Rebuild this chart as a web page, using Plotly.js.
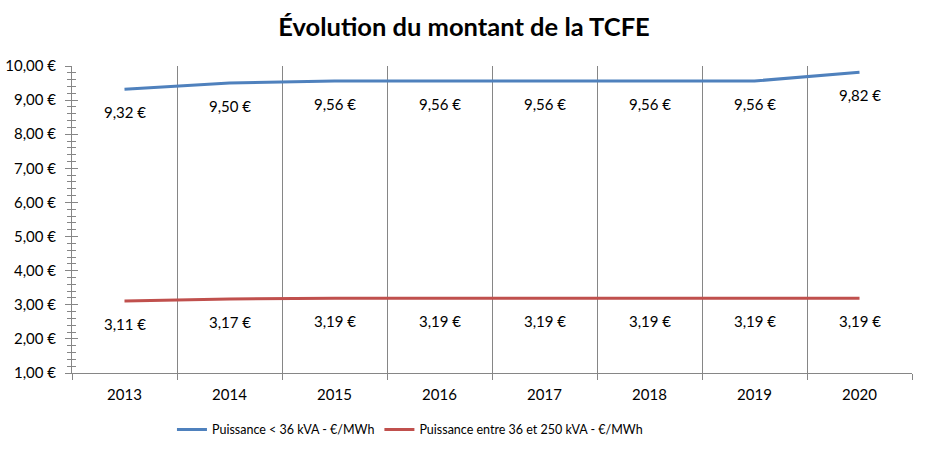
<!DOCTYPE html>
<html>
<head>
<meta charset="utf-8">
<script src="https://cdn.plot.ly/plotly-3.0.1.min.js"></script>
<style>html,body{margin:0;padding:0;background:#fff;}</style>
</head>
<body>
<div id="chart" style="width:928px;height:451px;"></div>
<script>
const years = ["2013","2014","2015","2016","2017","2018","2019","2020"];
const lowPower = [9.32, 9.50, 9.56, 9.56, 9.56, 9.56, 9.56, 9.82];
const midPower = [3.11, 3.17, 3.19, 3.19, 3.19, 3.19, 3.19, 3.19];
const seriesNames = ["Puissance < 36 kVA - €/MWh", "Puissance entre 36 et 250 kVA - €/MWh"];

const FONT = "Lato, 'Open Sans', sans-serif";
const GRID = "#868686";
const fmt = v => v.toFixed(2).replace('.', ',') + ' €';

const traces = [
  {x: years, y: lowPower, name: seriesNames[0], type: 'scatter', mode: 'lines',
   line: {color: '#4F81BD', width: 3}, hoverinfo: 'skip', xaxis: 'x', yaxis: 'y'},
  {x: years, y: midPower, name: seriesNames[1], type: 'scatter', mode: 'lines',
   line: {color: '#C0504D', width: 3}, hoverinfo: 'skip', xaxis: 'x', yaxis: 'y2'}
];

const annotations = [];
[lowPower, midPower].forEach(series => {
  series.forEach((v, i) => {
    annotations.push({x: i, y: v, xref: 'x', yref: 'y', text: fmt(v),
      showarrow: false, yshift: -23, font: {family: FONT, size: 15, color: '#000'}});
  });
});

const yCommon = {range: [1, 10], dtick: 1, tick0: 1, showgrid: false, zeroline: false, fixedrange: true, automargin: false};

const layout = {
  width: 928, height: 451,
  margin: {l: 72, r: 16, t: 66, b: 78},
  paper_bgcolor: '#fff', plot_bgcolor: '#fff',
  separators: ', ',
  font: {family: FONT, size: 15, color: '#000'},
  title: {text: '<b>Évolution du montant de la TCFE</b>', x: 0.5, xanchor: 'center', y: 0.96, yanchor: 'top',
    font: {family: FONT, size: 25.5, color: '#000'}},
  showlegend: true,
  legend: {orientation: 'h', x: 0.119, xanchor: 'left', yref: 'container', y: 0.047, yanchor: 'middle',
    font: {family: FONT, size: 12.5, color: '#000'}, tracegroupgap: 0},
  xaxis: {type: 'category', tickson: 'boundaries', showgrid: true, gridcolor: GRID, gridwidth: 1,
    showline: true, linecolor: GRID, linewidth: 1, ticks: 'outside', ticklen: 6, tickcolor: GRID,
    range: [-0.5, 7.5], tickfont: {family: FONT, size: 15}, ticklabelstandoff: 8, zeroline: false,
    fixedrange: true, automargin: false},
  yaxis: Object.assign({}, yCommon, {tickformat: '.2f', ticksuffix: ' €',
    showline: true, linecolor: GRID, linewidth: 1,
    ticks: 'outside', ticklen: 6, tickcolor: GRID, ticklabelstandoff: 6,
    minor: {dtick: 0.2, ticks: 'outside', ticklen: 4, tickcolor: GRID, showgrid: false},
    tickfont: {family: FONT, size: 15}}),
  yaxis2: Object.assign({}, yCommon, {overlaying: 'y', side: 'left',
    showticklabels: false, showline: false,
    ticks: 'inside', ticklen: 6, tickcolor: GRID,
    minor: {dtick: 0.2, ticks: 'inside', ticklen: 4, tickcolor: GRID, showgrid: false}}),
  annotations: annotations
};

Plotly.newPlot('chart', traces, layout, {staticPlot: true, displayModeBar: false});
</script>
</body>
</html>
